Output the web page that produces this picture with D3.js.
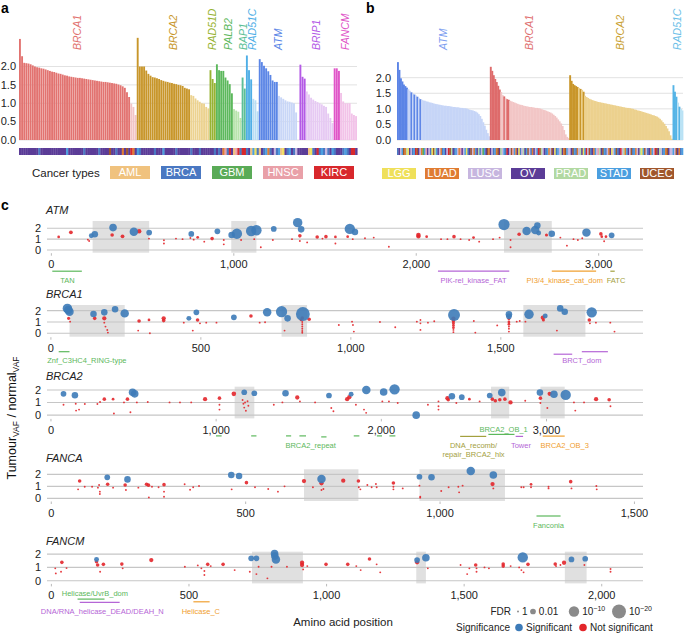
<!DOCTYPE html>
<html><head><meta charset="utf-8">
<script src="https://cdn.jsdelivr.net/npm/d3@7"></script>
<style>body{margin:0;background:#fff}svg{font-family:"Liberation Sans",Arial,Helvetica,sans-serif}</style>
</head><body>
<svg id="chart" width="685" height="633"></svg>
<script>
// ---------------- DATA ----------------
const cancerCodes  = ["A","B","G","H","K","Y","L","Q","O","P","S","U"];
const cancerNames  = ["AML","BRCA","GBM","HNSC","KIRC","LGG","LUAD","LUSC","OV","PRAD","STAD","UCEC"];
const cancerColors = ["#f0c27e","#4a78c2","#5aab57","#e9a0a8","#d8282c","#efe05a","#e07c32","#c7b6df","#5b3c97","#b2d9a2","#4b9fe0","#a0562c"];
const legendA = ["AML","BRCA","GBM","HNSC","KIRC"];
const legendB = ["LGG","LUAD","LUSC","OV","PRAD","STAD","UCEC"];

// panel a
const aGenes = ["BRCA1","BRCA2","RAD51D","PALB2","BAP1","RAD51C","ATM","BRIP1","FANCM"];
const aDarkColors  = ["#e27370","#c8962a","#97b332","#5cb85c","#5cbf96","#4eaee6","#5b86e6","#b45ae6","#e055c8"];
const aLightColors = ["#f2c4c5","#ecd28f","#d8e4a8","#b9e4ad","#b8e6d3","#b8ddf4","#c8d6f7","#e6c9f3","#f2c2e8"];
const aBRCA1sig = [2.75,2.28,2.1,2.09,2.08,2.06,2.03,2.0,1.98,1.97,1.95,1.94,1.92,1.9,1.88,1.86,1.85,1.83,1.81,1.8,1.78,1.76,1.75,1.73,1.72,1.71,1.7,1.69,1.69,1.68,1.67,1.66,1.65,1.64,1.63,1.62,1.61,1.6,1.59,1.58,1.58,1.57,1.56,1.55,1.54,1.53,1.51,1.49,1.46,1.42,1.3,1.17];
const aBRCA1ns  = [0.99,0.9,0.68];
const aBRCA2sig = [2.78,2.0,2.0,2.0,1.89,1.8,1.75,1.71,1.7,1.68,1.66,1.63,1.61,1.59,1.58,1.56,1.55,1.53,1.52,1.5,1.49,1.47,1.42,1.4,1.38];
const aBRCA2ns  = [1.22,1.2,1.13,1.08,1.04,1.0,0.99,0.9,0.86];
const aRAD51Dsig = [1.9,1.66,1.55];
const aRAD51Dns  = [];
const aPALB2sig = [2.06,1.9,1.88,1.88,1.7,1.62,1.52,1.27];
const aPALB2ns  = [0.84,0.8,0.77,0.6];
const aBAP1sig = [1.7,1.4];
const aBAP1ns  = [];
const aRAD51Csig = [2.3,1.9,1.65];
const aRAD51Cns  = [1.12,1.08,0.78];
const aATMsig = [2.2,2.12,2.02,1.95,1.87,1.77,1.62,1.58,1.58];
const aATMns  = [1.2,1.16,1.12,1.08,1.05,1.04,1.02,1.0,0.75,0];
const aBRIP1sig = [2.05,1.72,1.67];
const aBRIP1ns  = [1.32,1.24,1.15,1.1,1.06,1.03,1.0,0.97,0.93,0.9,0.72,0.6,0.46];
const aFANCMsig = [1.95,1.95,1.88];
const aFANCMns  = [1.28,1.05,1.0,1.0,1.0,0.72,0.68,0.65];
const aCodesBRCA1 = "OOOOOOOOOBOOOOOOOOOOOOSOOOOOOOBOOOOOOBOOOOUOOBOOLOUOKLO";
const aCodesBRCA2 = "SBOOOOOOBOOOSOOOOOBOOOOOOBOOOBOOOO";
const aCodesRAD51D = "OOB";
const aCodesPALB2 = "OBOLHBKOAHKB";
const aCodesBAP1 = "KK";
const aCodesRAD51C = "BOASYB";
const aCodesATM = "AOBSLBOQBSAYOBSOBQ";
const aCodesBRIP1 = "OOOOAYBOKBSBQBOS";
const aCodesFANCM = "BOOOBSBOKK";

// panel b
const bGenes = ["ATM","BRCA1","BRCA2","RAD51C"];
const bDarkColors  = ["#5b84e6","#de6b6b","#c9962a","#55b4e6"];
const bLightColors = ["#c6d5f7","#f2c6c6","#ecd18e","#b9e2f5"];
const bATM = [2.5,2.25,1.98,1.88,1.78,1.73,1.68,1.63,1.58,1.53,1.49,1.46,1.43,1.39,1.35,1.31,1.29,1.27,1.26,1.24,1.23,1.21,1.2,1.19,1.17,1.16,1.15,1.14,1.13,1.12,1.11,1.1,1.1,1.09,1.09,1.08,1.07,1.06,1.06,1.05,1.05,1.04,1.03,1.03,1.02,1.02,1.01,0.99,0.97,0.96,0.95,0.93,0.91,0.88,0.83,0.77,0.68,0.57,0.46,0.33,0.22,0.12];
const bBRCA1 = [2.35,2.22,2.08,1.96,1.86,1.74,1.62,1.54,1.44,1.4,1.34,1.31,1.29,1.26,1.24,1.22,1.2,1.18,1.16,1.14,1.13,1.12,1.1,1.09,1.08,1.07,1.06,1.06,1.05,1.04,1.03,1.03,1.02,1.01,0.99,0.97,0.96,0.94,0.92,0.9,0.88,0.85,0.81,0.77,0.72,0.66,0.6,0.53,0.45,0.32,0.18,0.1,0.06];
const bBRCA2 = [2.08,1.9,1.8,1.76,1.73,1.7,1.67,1.64,1.61,1.55,1.42,1.38,1.35,1.32,1.3,1.28,1.26,1.25,1.23,1.22,1.21,1.2,1.19,1.18,1.17,1.16,1.15,1.14,1.13,1.12,1.11,1.1,1.09,1.08,1.07,1.06,1.05,1.04,1.03,1.03,1.02,1.01,1.0,0.98,0.97,0.95,0.94,0.93,0.91,0.9,0.88,0.87,0.85,0.84,0.82,0.8,0.79,0.77,0.75,0.72,0.68,0.63,0.57,0.52,0.45,0.37,0.28,0.15,0.04];
const bRAD51C = [1.76,1.55,1.39,1.2,1.07,1.0,0.95];
const bATMsigIdx = [0,1,2,3,4,5,6,9,11,13,15];
const bBRCA1sigIdx = [0,1,2,3,4,5,6,9,11,12];
const bBRCA2sigIdx = [0,1,2,3,4,5,7,9];
const bRAD51CsigIdx = [0,1,2,4];
const bCodesATM = "BOQSULPYOQBSKUOQLGSHOQBYUPSOQLBSOQKUPOBSQLHOQSYBOUQLSOPBQGSOUL";
const bCodesBRCA1 = "OQBSLUOPQSBKOQUHSLOYBQPOSUQBLOQSKUPQOBSLQUOYBSQPOLUSQ";
const bCodesBRCA2 = "QOUSBLQPOYSKQUBOLSQHPOUSBQLOYQSUBOKQPLSOQUBSLQOPYSUQBOLSQKUOPQBSLUOQ";
const bCodesRAD51C = "SQUOLBS";

// panel c
const cGenes = ["ATM","BRCA1","BRCA2","FANCA","FANCM"];
const cTicks = [[0,1000,2000,3000],[0,500,1000,1500],[0,1000,2000,3000],[0,500,1000,1500],[0,500,1000,1500,2000]];
const cXDomain = [[-24,3243],[-13,1974],[-24,3584],[-11,1522],[-16,2150]];
const cYDomain = [[-0.25,2.67],[-0.3,2.5],[-0.26,2.26],[-0.22,2.42],[-0.2,2.18]];
// points: [aa position, tumour/normal VAF ratio, significant (1/0), -log10 FDR]
const pATM = [[219,1.32,1,1.3],[238,1.45,1,3],[338,2.06,1,4.5],[452,1.69,1,6],[536,1.6,1,2],[767,1.48,1,2],[910,1.72,1,2],[988,1.38,1,3],[1017,1.5,1,10],[1095,1.75,1,10],[1124,1.82,1,10],[1219,1.94,1,2],[1350,2.52,1,8],[1369,1.9,1,3],[1636,1.94,1,10],[1664,1.66,1,3],[2481,2.34,1,12],[2605,1.75,1,6],[2652,1.85,1,6],[2664,2.25,1,3],[2671,1.57,1,1.3],[2743,1.5,1,3],[2933,1.6,1,6],[3071,1.35,1,2],
[40,1.2,0,0.1],[107,1.63,0,0.5],[207,0.83,0,0],[200,0.95,0,0],[333,1.38,0,0.4],[390,1.26,0,0.5],[481,1.72,0,1],[535,1.05,0,0],[617,0.9,0,0],[617,0.6,0,0],[683,1.05,0,0],[719,1.0,0,0],[762,1.1,0,0],[780,0.95,0,0],[802,1.17,0,0.1],[838,0.77,0,0],[881,1.05,0,0.4],[945,0.92,0,0],[945,0.52,0,0],[1040,0.92,0,0],[1112,1.0,0,0],[1148,0.25,0,0],[1214,0.92,0,0],[1319,1.0,0,0],[1362,1.3,0,0.4],[1362,0.83,0,0],[1402,0.7,0,0],[1457,1.2,0,0.4],[1486,1.05,0,0],[1505,1.23,0,0.4],[1557,1.2,0,0.1],[1557,0.6,0,0],[1624,1.23,0,0.1],[1652,1.0,0,0],[1719,1.08,0,0],[1767,1.14,0,0],[1850,0.3,0,0],[2012,1.38,0,1.0],[2012,1.25,0,0.8],[2057,1.23,0,0.1],[2136,1.0,0,0],[2171,1.0,0,0],[2207,1.23,0,0.4],[2243,1.0,0,0],[2290,0.92,0,0],[2314,1.14,0,0.1],[2345,0.77,0,0],[2421,1.0,0,0],[2457,1.14,0,0],[2517,0.92,0,0],[2517,0.25,0,0],[2564,1.45,0,0.4],[2714,1.38,0,0.2],[2790,1.14,0,0],[2826,0.4,0,0],[2862,1.0,0,0],[2886,0.92,0,0],[2910,1.08,0,0],[3012,1.48,0,0.4],[3017,1.23,0,0.1],[3030,0.8,0,0],[3040,1.23,0,0.1]];
const pBRCA1 = [[55,2.2,1,8],[62,1.9,1,6],[58,2.05,1,6],[142,1.7,1,3],[178,1.85,1,3],[214,2.12,1,3],[246,1.76,1,6],[460,1.32,1,1.3],[485,1.85,1,2],[610,1.41,1,2],[721,1.85,1,6],[769,1.91,1,12],[789,1.32,1,3],[840,1.7,1,20],[1344,1.62,1,14],[1527,1.68,1,3],[1527,1.5,1,2],[1594,1.68,1,8],[1648,1.53,1,1.3],[1698,2.2,1,3],[1713,1.91,1,3],[1803,1.85,1,10],
[59,1.32,0,0.2],[64,1.03,0,0],[146,1.32,0,0.4],[178,1.32,0,0.8],[178,0.94,0,0],[182,0.59,0,0],[188,0.29,0,0],[190,0.06,0,0],[294,1.09,0,0.4],[291,0.24,0,0],[327,1.18,0,0.1],[330,0,0,0],[376,1.32,0,0.8],[376,1.12,0,0.4],[443,0.94,0,0],[473,0.24,0,0],[489,1.18,0,0.4],[497,0.88,0,0],[518,0.94,0,0],[552,0.94,0,0],[667,1.53,0,0.4],[696,0.94,0,0],[714,0.97,0,0],[779,0.24,0,0],[834,1.18,0,0.1],[838,1.35,0,0.4],[838,1.0,0,0],[838,0.8,0,0],[838,0.6,0,0],[838,0.4,0,0],[838,0.2,0,0],[838,0.05,0,0],[861,1.24,0,0.4],[960,0.74,0,0],[1004,1.03,0,0],[1007,0.74,0,0],[1010,0.15,0,0],[1097,1.0,0,0],[1148,0.53,0,0],[1220,1.03,0,0],[1232,1.18,0,0],[1232,0.88,0,0],[1232,0.3,0,0],[1257,0.94,0,0],[1278,1.06,0,0],[1342,1.3,0,0.8],[1342,1.1,0,0.4],[1342,0.9,0,0.2],[1342,0.7,0,0.1],[1342,0.5,0,0.1],[1342,0.3,0,0],[1342,0.1,0,0],[1410,1.09,0,0],[1415,0.06,0,0],[1488,0.7,0,0],[1527,1.3,0,0.2],[1527,1.0,0,0.1],[1527,0.8,0,0.1],[1527,0.6,0,0],[1527,0.4,0,0],[1527,0.15,0,0],[1553,1.03,0,0],[1563,1.09,0,0],[1582,1.03,0,0],[1640,1.38,0,0.8],[1642,1.18,0,0.2],[1687,0.24,0,0],[1795,1.18,0,0.4],[1797,0.88,0,0],[1817,0.94,0,0],[1865,0.94,0,0],[1879,0.15,0,0]];
const pBRCA2 = [[76,1.69,1,2],[145,1.58,1,3],[494,1.82,1,4.5],[507,1.69,1,4.5],[1170,1.82,1,2],[1231,1.74,1,2],[1420,1.74,1,3],[1683,1.56,1,2],[1817,1.66,1,1.3],[1909,2.0,1,6],[2014,1.84,1,4.5],[2080,2.05,1,10],[2211,0.0,1,4.5],[2427,1.5,1,3],[2487,1.43,1,2],[2656,1.56,1,2],[2729,1.79,1,4.5],[2960,1.79,1,3],[3045,1.66,1,4.5],[3116,1.61,1,10],
[76,0.83,0,0],[150,0.9,0,0],[152,0.36,0,0],[170,0.44,0,0],[205,0.88,0,0],[281,0.88,0,0],[297,1.04,0,0],[323,1.27,0,0.4],[376,1.27,0,0.1],[381,0.13,0,0],[442,1.01,0,0],[463,1.27,0,0.4],[481,0.23,0,0],[520,1.01,0,0],[586,1.04,0,0],[718,1.01,0,0],[781,1.01,0,0],[849,1.01,0,0],[933,1.27,0,0.8],[1020,1.35,0,0.4],[1020,0.83,0,0],[1020,0.44,0,0],[1107,1.69,0,1],[1160,1.2,0,0],[1165,0.9,0,0],[1170,0.6,0,0],[1175,1.0,0,0],[1180,0.35,0,0],[1190,1.1,0,0],[1195,0.75,0,0],[1349,0.83,0,0],[1401,1.01,0,0],[1491,1.4,0,0.8],[1507,1.09,0,0],[1599,1.01,0,0],[1697,0.57,0,0],[1710,0.31,0,0],[1793,1.27,0,0.8],[1806,1.43,0,0.8],[1846,0.83,0,0],[1895,0.44,0,0],[1908,0.18,0,0],[2006,1.09,0,0],[2046,1.09,0,0],[2099,0.96,0,0],[2282,0.83,0,0],[2346,1.09,0,0],[2346,0.7,0,0],[2346,0.44,0,0],[2400,1.35,0,0.8],[2405,1.22,0,0.4],[2454,0.96,0,0],[2533,1.27,0,0.1],[2595,1.09,0,0],[2672,1.27,0,0.4],[2690,1.14,0,0.4],[2717,1.22,0,0.4],[2748,1.27,0,0.4],[2782,1.01,0,0.8],[2871,1.14,0,0],[2963,1.35,0,0.4],[2963,0.96,0,0],[3005,0.57,0,0],[3019,1.69,0,0.8],[3166,1.01,0,0],[3174,0.36,0,0],[3227,1.01,0,0],[3300,1.27,0,0.8],[3379,1.22,0,0.4],[3387,0.7,0,0]];
const pFANCA = [[144,1.75,1,2],[196,1.58,1,3],[463,1.94,1,3],[483,1.86,1,3],[695,1.61,1,6],[947,1.8,1,2],[978,1.75,1,3],[1079,2.28,1,6],[1137,1.94,1,4.5],
[73,1.44,0,0.4],[69,0.75,0,0],[86,0.97,0,0],[105,0.97,0,0],[120,0.89,0,0],[123,1.11,0,0],[125,0.56,0,0],[125,0.36,0,0],[145,1.17,0,0.4],[159,0.89,0,0],[190,1.11,0,0.4],[192,0.69,0,0],[224,0.89,0,0],[245,1.17,0,0.4],[250,1.1,0,0.4],[251,0.08,0,0],[259,0.97,0,0],[276,0.92,0,0],[290,1.14,0,0.4],[290,0.56,0,0],[290,0.14,0,0],[343,1.17,0,0],[357,0.72,0,0],[365,0.92,0,0],[380,1.03,0,0],[464,0.75,0,0],[502,1.31,0,0.4],[524,0.92,0,0],[558,0.78,0,0],[583,0.56,0,0],[600,1.0,0,0],[650,1.44,0,0.8],[673,0.92,0,0],[695,1.25,0,0.8],[700,0.78,0,0],[695,0.69,0,0],[751,1.47,0,0.8],[790,1.44,0,0.4],[791,0.92,0,0],[795,0.75,0,0],[813,1.11,0,0],[824,0.92,0,0],[835,1.19,0,0],[837,0.92,0,0],[880,1.28,0,0.4],[880,0.97,0,0],[880,0.75,0,0],[904,0.83,0,0],[947,1.06,0,0],[949,0.14,0,0],[949,0.06,0,0],[1003,0.61,0,0],[1022,0.92,0,0],[1047,0.97,0,0],[1049,0.5,0,0],[1058,1.06,0,0],[1135,1.19,0,0.8],[1137,0.83,0,0],[1209,0.92,0,0],[1215,0.92,0,0],[1234,1.17,0,0.1],[1234,0.92,0,0],[1279,0.97,0,0],[1279,0.83,0,0],[1336,1.39,0,0.4],[1338,0.83,0,0],[1402,1.03,0,0],[1403,0.75,0,0]];
const pFANCM = [[164,1.6,1,1.3],[726,1.68,1,2],[745,1.68,1,2],[811,2.05,1,4.5],[812,1.85,1,4.5],[816,1.6,1,6],[1329,1.55,1,2],[1361,1.73,1,4.5],[1713,1.75,1,10],[1890,1.6,1,2],[1940,1.65,1,2],
[14,0.93,0,0],[16,0.55,0,0],[38,1.38,0,0.4],[35,0.68,0,0],[55,0.95,0,0],[164,1.43,0,0.4],[168,1.18,0,0.4],[177,0.68,0,0],[189,1.23,0,0.4],[256,1.25,0,0.4],[259,0.93,0,0],[363,1.55,0,0.8],[485,1.05,0,0],[532,1.15,0,0],[545,0.93,0,0],[556,0.73,0,0],[556,0.43,0,0],[568,1.23,0,0.4],[579,1.1,0,0],[624,1.23,0,0.4],[666,0.8,0,0],[721,0.68,0,0],[745,0.5,0,0],[753,1.05,0,0],[785,0.18,0,0],[800,1.05,0,0],[856,1.05,0,0],[911,1.35,0,0.8],[911,1.18,0,0.8],[915,0.85,0,0],[930,1.1,0,0],[998,1.23,0,0.4],[1077,1.23,0,0.4],[1108,1.1,0,0],[1124,0.8,0,0],[1156,1.63,0,0.4],[1182,1.23,0,0],[1195,0.63,0,0],[1329,1.38,0,0.8],[1368,0.93,0,0],[1487,1.18,0,0],[1511,0.5,0,0],[1519,0.93,0,0],[1542,1.18,0,0.4],[1545,0.93,0,0],[1545,0.68,0,0],[1574,1.0,0,0],[1590,0.93,0,0],[1642,1.25,0,0.4],[1642,1.1,0,0.4],[1669,1.1,0,0],[1700,1.0,0,0],[1708,0.8,0,0],[1716,0.63,0,0],[1732,1.23,0,0.4],[1831,1.25,0,0.4],[1834,1.1,0,0],[1850,1.18,0,0],[1863,1.35,0,0.8],[1937,1.18,0,0],[2032,0.88,0,0],[2032,0.68,0,0]];
// highlighted regions [start, end]
const rATM = [[226,536],[986,1124],[2481,2743]];
const rBRCA1 = [[62,246],[769,854],[1575,1782]];
const rBRCA2 = [[1112,1231],[2664,2774],[2963,3110]];
const rFANCA = [[650,790],[947,1167]];
const rFANCM = [[729,914],[1326,1361],[1866,1945]];
// protein domains [name, start, end, label position, family]
const dATM = [["TAN",5,167,88,"g"],["PIK-rel_kinase_FAT",2119,2510,2314,"p"],["PI3/4_kinase_cat_dom",2743,2986,2814,"o"],["FATC",3064,3088,3095,"y"]];
const dBRCA1 = [["Znf_C3HC4_RING-type",26,62,120,"g"],["",1676,1738,0,"p"],["BRCT_dom",1770,1857,1770,"p"]];
const dBRCA2 = [["",999,1033,0,"g"],["",1212,1244,0,"g"],["",1423,1454,0,"g"],["",1504,1544,0,"g"],["BRCA2_repeat",1636,1668,1572,"g"],["",1833,1867,0,"g"],["",1973,2004,0,"g"],["",2049,2085,0,"g"],["DNA_recomb/|repair_BRCA2_hlx",2477,2635,2558,"y"],["BRCA2_OB_1",2648,2806,2740,"g"],["Tower",2813,2858,2845,"p"],["BRCA2_OB_3",2977,3110,3110,"o"]];
const dFANCA = [["Fanconia",1248,1310,1279,"g"]];
const dFANCM = [["Helicase/UvrB_dom",95,193,158,"g"],["DNA/RNA_helicase_DEAD/DEAH_N",103,248,185,"p"],["Helicase_C",516,575,543,"o"]];
const fdrLegendValues = [0,2,10,20];
const fdrLegendLabels = [["1"],["0.01"],["10","−10"],["10","−20"]];

// ---------------- DRAWING ----------------
const svg = d3.select("#chart");
const txt = "#222";
const cancerColor = d3.scaleOrdinal().domain(cancerCodes).range(cancerColors);
const codeOfName = d3.scaleOrdinal().domain(cancerNames).range(cancerCodes);

function panelLabel(t,x,y){svg.append("text").attr("x",x).attr("y",y).attr("font-size",14).attr("font-weight","bold").attr("fill","#000").text(t);}
panelLabel("a",1,13); panelLabel("b",366,13); panelLabel("c",1,210);

function barPanel(opt){
  const {bars, x0, x1, yScale, padding, geneList, labelColors, ticks, tickX} = opt;
  const g = svg.append("g");
  g.selectAll("line.grid").data(ticks).join("line")
    .attr("x1",x0).attr("x2",x1).attr("y1",d=>yScale(d)).attr("y2",d=>yScale(d))
    .attr("stroke","#e2e2e2").attr("stroke-width",1);
  g.selectAll("text.tick").data(ticks).join("text")
    .attr("x",tickX).attr("y",d=>yScale(d)).attr("dy","0.35em").attr("text-anchor","end")
    .attr("font-size",11).attr("fill",txt).text(d3.format(".1f"));
  const xs = d3.scaleBand().domain(d3.range(bars.length)).range([x0,x1]).paddingInner(padding);
  g.selectAll("rect.bar").data(bars).join("rect")
    .attr("x",(d,i)=>xs(i)).attr("width",xs.bandwidth()+(padding===0?0.4:0))
    .attr("y",d=>yScale(d.v)).attr("height",d=>Math.max(0,yScale(0)-yScale(d.v)))
    .attr("fill",d=>d.color);
  g.selectAll("rect.strip").data(bars).join("rect")
    .attr("x",(d,i)=>x0+i*xs.step()).attr("width",xs.step()+0.3)
    .attr("y",148).attr("height",7).attr("fill",d=>cancerColor(d.code));
  geneList.forEach((gname,gi)=>{
    const idx = bars.map((b,i)=>b.gene===gname?i:-1).filter(i=>i>=0);
    const cx = (xs(idx[0]) + xs(idx[idx.length-1]) + xs.bandwidth())/2;
    g.append("text").attr("transform",`translate(${cx+3.5},50) rotate(-90)`)
      .attr("font-size",10.5).attr("font-style","italic").attr("fill",labelColors[gi]).text(gname);
  });
}

// panel a bars
const aSig = [aBRCA1sig,aBRCA2sig,aRAD51Dsig,aPALB2sig,aBAP1sig,aRAD51Csig,aATMsig,aBRIP1sig,aFANCMsig];
const aNs  = [aBRCA1ns,aBRCA2ns,aRAD51Dns,aPALB2ns,aBAP1ns,aRAD51Cns,aATMns,aBRIP1ns,aFANCMns];
const aCodes = [aCodesBRCA1,aCodesBRCA2,aCodesRAD51D,aCodesPALB2,aCodesBAP1,aCodesRAD51C,aCodesATM,aCodesBRIP1,aCodesFANCM];
const barsA = [];
aGenes.forEach((g,gi)=>{
  const vals = aSig[gi].map(v=>({v,sig:true})).concat(aNs[gi].map(v=>({v,sig:false})));
  vals.forEach((d,i)=>barsA.push({gene:g,v:d.v,color:d.sig?aDarkColors[gi]:aLightColors[gi],code:aCodes[gi][i]||"O"}));
});
const yA = d3.scaleLinear().domain([0,2]).range([140,66.5]);
barPanel({bars:barsA,x0:19,x1:357,yScale:yA,padding:0.12,geneList:aGenes,labelColors:aDarkColors,ticks:[0,0.5,1,1.5,2],tickX:16});

// panel b bars
const bVals = [bATM,bBRCA1,bBRCA2,bRAD51C];
const bSig = [bATMsigIdx,bBRCA1sigIdx,bBRCA2sigIdx,bRAD51CsigIdx];
const bCodes = [bCodesATM,bCodesBRCA1,bCodesBRCA2,bCodesRAD51C];
const barsB = [];
bGenes.forEach((g,gi)=>{
  bVals[gi].forEach((v,i)=>barsB.push({gene:g,v,color:bSig[gi].includes(i)?bDarkColors[gi]:bLightColors[gi],code:bCodes[gi][i]||"Q"}));
});
const yB = d3.scaleLinear().domain([0,2]).range([140,77.7]);
barPanel({bars:barsB,x0:397,x1:683,yScale:yB,padding:0,geneList:bGenes,labelColors:["#7f9ff0","#e07070","#c9a030","#6cc0e8"],ticks:[0,0.5,1,1.5,2],tickX:391});

// cancer legends
svg.append("text").attr("x",32).attr("y",177).attr("font-size",11.5).attr("fill",txt).text("Cancer types");
function cancerLegend(names,x0,step,w,y,h){
  names.forEach((n,i)=>{
    const x = x0+i*step;
    svg.append("rect").attr("x",x).attr("y",y).attr("width",w).attr("height",h).attr("fill",cancerColor(codeOfName(n)));
    svg.append("text").attr("x",x+w/2).attr("y",y+h/2).attr("dy","0.36em").attr("text-anchor","middle")
      .attr("font-size",11).attr("fill","#fff").text(n);
  });
}
cancerLegend(legendA,110,51,40,166,13);
cancerLegend(legendB,382,43,34,168,11);

// panel c
const pts = [pATM,pBRCA1,pBRCA2,pFANCA,pFANCM];
const regs = [rATM,rBRCA1,rBRCA2,rFANCA,rFANCM];
const doms = [dATM,dBRCA1,dBRCA2,dFANCA,dFANCM];
const famColor = {g:"#5cb85c",p:"#b566d6",o:"#f0a030",y:"#a3a03e"};
const cTop = [221,305,386.7,469.3,551.7];
const cH = 31.7;
const cX0 = 47, cX1 = 643;
const rScale = d3.scaleSqrt().domain([0,20]).range([0,6]);
const radius = n => 0.95 + rScale(n);
const lineOff = {"TAN":18.5,"PIK-rel_kinase_FAT":18.5,"PI3/4_kinase_cat_dom":18.5,"FATC":18.5,
  "Znf_C3HC4_RING-type":15,"BRCT_dom":15,"":17.5,"BRCA2_repeat":18.5,"DNA_recomb/|repair_BRCA2_hlx":18,
  "BRCA2_OB_1":16,"Tower":18,"BRCA2_OB_3":17.7,"Fanconia":15,"Helicase/UvrB_dom":15.7,"DNA/RNA_helicase_DEAD/DEAH_N":19,"Helicase_C":18.4};
const labOff = {"TAN":30,"PIK-rel_kinase_FAT":30,"PI3/4_kinase_cat_dom":30,"FATC":30,
  "Znf_C3HC4_RING-type":26,"BRCT_dom":26,"BRCA2_repeat":30,"DNA_recomb/|repair_BRCA2_hlx":30,
  "BRCA2_OB_1":13.5,"Tower":30,"BRCA2_OB_3":30,"Fanconia":27,"Helicase/UvrB_dom":12.5,"DNA/RNA_helicase_DEAD/DEAH_N":30.5,"Helicase_C":30.5};

cGenes.forEach((gene,gi)=>{
  const top = cTop[gi], bottom = top + cH;
  const x = d3.scaleLinear().domain(cXDomain[gi]).range([cX0,cX1]);
  const y = d3.scaleLinear().domain(cYDomain[gi]).range([bottom,top]);
  const g = svg.append("g");
  g.append("text").attr("x",46).attr("y",top-7).attr("font-size",11).attr("font-style","italic").attr("fill",txt).text(gene);
  g.selectAll("rect.reg").data(regs[gi]).join("rect")
    .attr("x",d=>x(d[0])).attr("width",d=>x(d[1])-x(d[0])).attr("y",top).attr("height",cH)
    .attr("fill","#d6d6d6").attr("opacity",0.75);
  g.selectAll("line.grid").data([0,1,2]).join("line")
    .attr("x1",cX0).attr("x2",cX1).attr("y1",d=>y(d)).attr("y2",d=>y(d))
    .attr("stroke","#c6c6c6").attr("stroke-width",1.1);
  g.selectAll("text.yt").data([0,1,2]).join("text")
    .attr("x",41).attr("y",d=>y(d)).attr("dy","0.35em").attr("text-anchor","end")
    .attr("font-size",11).attr("fill",txt).text(d=>d);
  g.selectAll("line.xt").data(cTicks[gi]).join("line")
    .attr("x1",d=>x(d)).attr("x2",d=>x(d)).attr("y1",bottom+0.5).attr("y2",bottom+3)
    .attr("stroke","#aaa").attr("stroke-width",0.8);
  g.selectAll("text.xt").data(cTicks[gi]).join("text")
    .attr("x",d=>x(d)).attr("y",bottom+15.5).attr("text-anchor","middle")
    .attr("font-size",11).attr("fill",txt).text(d3.format(","));
  doms[gi].forEach(d=>{
    const col = famColor[d[4]];
    const ly = bottom + lineOff[d[0]];
    g.append("line").attr("x1",x(d[1])).attr("x2",x(d[2])).attr("y1",ly).attr("y2",ly).attr("stroke",col).attr("stroke-width",1.2);
    if(d[0]){
      d[0].split("|").forEach((p,pi)=>{
        g.append("text").attr("x",x(d[3])).attr("y",bottom+labOff[d[0]]+pi*9).attr("text-anchor","middle")
          .attr("font-size",7.5).attr("fill",col).text(p);
      });
    }
  });
  const ns = pts[gi].filter(p=>!p[2]);
  const sg = pts[gi].filter(p=>p[2]).sort((a,b)=>b[3]-a[3]);
  g.selectAll("circle.ns").data(ns).join("circle")
    .attr("cx",d=>x(d[0])).attr("cy",d=>y(d[1])).attr("r",d=>radius(d[3]))
    .attr("fill","#e3262b").attr("fill-opacity",0.9);
  g.selectAll("circle.sg").data(sg).join("circle")
    .attr("cx",d=>x(d[0])).attr("cy",d=>y(d[1])).attr("r",d=>radius(d[3]))
    .attr("fill","#3d7bb8").attr("fill-opacity",0.9);
});

// y label for panel c
const yl = svg.append("text").attr("transform","translate(16,418) rotate(-90)").attr("text-anchor","middle")
  .attr("font-size",12.5).attr("fill","#111");
yl.append("tspan").text("Tumour");
yl.append("tspan").attr("font-size",8.5).attr("dy",3).text("VAF");
yl.append("tspan").attr("dy",-3).text(" / normal");
yl.append("tspan").attr("font-size",8.5).attr("dy",3).text("VAF");

svg.append("text").attr("x",343).attr("y",626).attr("text-anchor","middle").attr("font-size",11.5).attr("fill",txt).text("Amino acid position");

// FDR legend
svg.append("text").attr("x",511).attr("y",615).attr("text-anchor","end").attr("font-size",10).attr("fill",txt).text("FDR");
const fdrX = [518,533,574,619];
fdrLegendValues.forEach((n,i)=>{
  const r = radius(n);
  svg.append("circle").attr("cx",fdrX[i]).attr("cy",611.5).attr("r",r).attr("fill","#8a8a8a");
  const t = svg.append("text").attr("x",fdrX[i]+r+3).attr("y",615).attr("font-size",10).attr("fill",txt);
  t.append("tspan").text(fdrLegendLabels[i][0]);
  if(fdrLegendLabels[i][1]) t.append("tspan").attr("dy",-4).attr("font-size",7).text(fdrLegendLabels[i][1]);
});
svg.append("text").attr("x",510).attr("y",631).attr("text-anchor","end").attr("font-size",10).attr("fill",txt).text("Significance");
svg.append("circle").attr("cx",519).attr("cy",627.5).attr("r",3.8).attr("fill","#3d7bb8");
svg.append("text").attr("x",526).attr("y",631).attr("font-size",10).attr("fill",txt).text("Significant");
svg.append("circle").attr("cx",583).attr("cy",627.5).attr("r",3.8).attr("fill","#e3262b");
svg.append("text").attr("x",590).attr("y",631).attr("font-size",10).attr("fill",txt).text("Not significant");
</script>
</body></html>
